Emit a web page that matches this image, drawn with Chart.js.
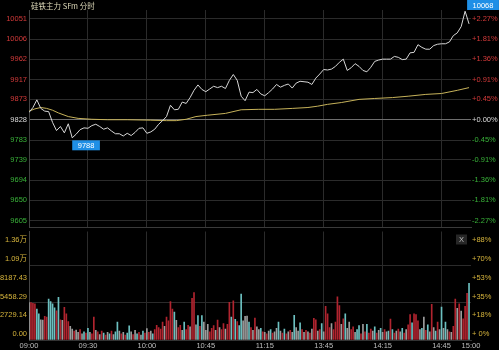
<!DOCTYPE html>
<html>
<head>
<meta charset="utf-8">
<title>硅铁主力 SFm 分时</title>
<script src="https://cdn.jsdelivr.net/npm/chart.js@4.4.1/dist/chart.umd.min.js"></script>
<style>
  html, body { margin: 0; padding: 0; background: #000; }
  #wrap { position: relative; width: 499px; height: 350px; overflow: hidden; background: #000; }
  #wrap canvas { position: absolute; left: 0; }
  #priceChart { top: 0; }
  #volChart { top: 225px; }
</style>
</head>
<body>
<div id="wrap">
  <canvas id="priceChart" width="499" height="234"></canvas>
  <canvas id="volChart" width="499" height="125"></canvas>
</div>
<script>
// Intraday session: 09:00-10:15, 10:30-11:30, 13:30-15:00 => 225 trading minutes
const SESSION_MINUTES = 225;
const PREV_CLOSE = 9828;
const PRICE_STEP = 2; // one price sample every 2 trading minutes
const TITLE = '硅铁主力 SFm 分时';

// Last price, sampled every 2 minutes from 09:00
const prices = [
  9844, 9855, 9872, 9853, 9847, 9846, 9822, 9804, 9813, 9799,
  9819, 9788, 9796, 9806, 9810, 9809, 9815, 9818, 9813, 9807,
  9810, 9803, 9797, 9797, 9792, 9798, 9793, 9800, 9809, 9810,
  9798, 9801, 9807, 9818, 9826, 9835, 9860, 9850, 9851, 9867,
  9864, 9877, 9893, 9905, 9895, 9890, 9896, 9902, 9899, 9902,
  9897, 9915, 9928, 9915, 9880, 9870, 9889, 9888, 9895, 9885,
  9881, 9888, 9896, 9906, 9900, 9904, 9907, 9898, 9909, 9913,
  9912, 9911, 9906, 9920, 9929, 9939, 9938, 9940, 9946, 9955,
  9962, 9937, 9943, 9952, 9946, 9937, 9934, 9944, 9957, 9960,
  9962, 9962, 9962, 9968, 9966, 9961, 9962, 9976, 9977, 9994,
  9988, 9984, 9984, 9992, 9995, 9996, 9996, 10000, 10014, 10020,
  10034, 10068, 10040
];

// Average price line
const avgMinutes = [0, 3, 6, 9, 12, 15, 20, 25, 32, 40, 50, 62, 70, 75, 80, 85, 91, 100,
  108, 117, 125, 134, 142, 147, 152, 159, 168, 176, 185, 193, 202, 210, 218, 224];
const avgPrices = [9847, 9852, 9855, 9853, 9849, 9843, 9835, 9831, 9829, 9828, 9828, 9827,
  9826, 9826, 9829, 9835, 9838, 9842, 9850, 9851, 9851, 9853, 9855, 9858, 9862, 9866,
  9873, 9875, 9877, 9880, 9884, 9886, 9893, 9899];

// Per-minute volume
const volumes = [
  // 09:00
  5450, 5450, 5350, 5250, 4500, 3800, 2950, 2900, 3450, 3350, 5950, 5600, 5250, 4700, 4250,
  6200, 2950, 2850, 4750, 3800, 2700, 2000, 1600, 1300, 1450, 1100, 1500, 900, 1200, 1000,
  // 09:30
  1700, 1100, 900, 3350, 1400, 1200, 800, 1300, 1000, 700, 1100, 900, 1300, 800, 1200,
  2600, 1300, 900, 1100, 700, 1000, 2050, 1200, 800, 1400, 900, 1100, 700, 1300, 1000,
  // 10:00
  1650, 1100, 1300, 900, 1500, 2150, 1800, 1600, 2600, 2000, 3350, 2800, 5600, 4500, 4050,
  // 10:30
  2850, 1800, 2150, 1400, 2600, 1500, 2150, 1900, 6050, 6900, 2200, 3550, 2000, 3550, 2600,
  // 10:45
  1400, 2300, 1200, 1700, 2100, 1400, 2900, 1800, 1500, 2400, 1600, 2300, 5500, 3350, 5700,
  3000, 2700, 2100, 6700, 2800, 3450, 3500, 2600, 1800, 1400, 3200, 1900, 1500, 1700, 1200,
  // 11:15
  1100, 900, 1300, 1500, 1000, 1200, 1700, 2600, 1300, 1000, 1600, 900, 1200, 1400, 1100,
  // 13:30
  3600, 1800, 1300, 2500, 1500, 1100, 1400, 1200, 1000, 1600, 3150, 2950, 1300, 1500, 2400,
  // 13:45
  1200, 4900, 3800, 1800, 2400, 1500, 2600, 6300, 5000, 2300, 3100, 3800, 1700, 2600, 1500,
  1900, 1100, 1500, 2100, 900, 2300, 1200, 2300, 1000, 1600, 1300, 1900, 1000, 1400, 1700,
  // 14:15
  1100, 1500, 1200, 1300, 3050, 1500, 1000, 1300, 1600, 1200, 1700, 1000, 1500, 2200, 3700,
  2500, 3800, 3700, 2800, 1500, 1700, 3350, 1400, 2200, 1200, 5200, 1800, 1300, 2600, 1500,
  // 14:45
  4800, 1700, 2600, 1500, 1200, 1100, 2000, 5950, 4600, 5250, 4200, 3100, 4900, 6800, 8250
];

// Bar direction per minute: r = up, g = down, w = flat
const barDirs = [
  'wrrrggwwrrggggr', 'grwrrrwwrwwrwgr', 'gwrrwrwrgrwgrwg', 'gwrwrggwrwgrwgr',
  'wrwgrrrrrwrrrrg', 'wrrwgrrwrrwgrgw', 'wwrrrwrwrrwrrgr', 'grggwwwgrwrwwgr',
  'wrwgrwwgwrgrwrw', 'gwwgrwrwrwrrwrg', 'wrrrwrrrrwrgwwr', 'rwggrwrgrrwgrwg',
  'wrwgrgrwrwgrwrr', 'grrrwgwrgwrwgrw', 'gwgwrwrrwrwrrrg'
].join('').split('');

// Axis ticks and labels
const priceTicks = [9605, 9650, 9694, 9739, 9783, 9828, 9873, 9917, 9962, 10006, 10051];
const pctLabels = ['-2.27%', '-1.81%', '-1.36%', '-0.91%', '-0.45%', '+0.00%',
  '+0.45%', '+0.91%', '+1.36%', '+1.81%', '+2.27%'];
const volTicks = [0, 2729.14, 5458.29, 8187.43, 10916.57, 13645.71];
const volLabels = ['0.00', '2729.14', '5458.29', '8187.43', '1.09万', '1.36万'];
const volPctLabels = ['+ 0%', '+18%', '+35%', '+53%', '+70%', '+88%'];
const timeTicks = [0, 30, 60, 90, 120, 150, 180, 210, 225];
const timeLabels = ['09:00', '09:30', '10:00', '10:45', '11:15', '13:45', '14:15', '14:45', '15:00'];

const PRICE_MIN = 9589.6;
const PRICE_MAX = 10070.7;
const VOL_MAX = 15800;

const GRID = '#2b2b2b';
const FONT = { family: "'Liberation Sans', 'Noto Sans CJK SC', sans-serif", size: 7.5 };
const UP = '#d43a3a';
const DOWN = '#39b239';
const barColors = { r: '#b0242f', g: '#6cc0c0', w: '#9c9c9c' };

function priceColor(v) {
  if (v > PREV_CLOSE) return UP;
  if (v < PREV_CLOSE) return DOWN;
  return '#dcdcdc';
}

function drawTag(ctx, text, x, y) {
  ctx.font = "7.5px 'Liberation Sans', sans-serif";
  const w = ctx.measureText(text).width + 11;
  x = Math.min(x, ctx.canvas.width - w);
  y = Math.max(y, 0);
  ctx.fillStyle = '#1f8fe6';
  ctx.fillRect(x, y, w, 10);
  ctx.fillStyle = '#ffffff';
  ctx.textAlign = 'center';
  ctx.textBaseline = 'middle';
  ctx.fillText(text, x + w / 2, y + 5.5);
}

// Title plus high / low tags on the price panel
const priceOverlay = {
  id: 'priceOverlay',
  afterDraw(chart) {
    const { ctx, scales: { x, y } } = chart;
    ctx.save();
    ctx.font = "7.5px 'Noto Sans CJK SC', sans-serif";
    ctx.fillStyle = '#ddd8b8';
    ctx.textAlign = 'left';
    ctx.textBaseline = 'middle';
    ctx.fillText(TITLE, 31, 6);

    const hi = Math.max(...prices);
    const lo = Math.min(...prices);
    const hiX = x.getPixelForValue(prices.indexOf(hi) * PRICE_STEP);
    const loX = x.getPixelForValue(prices.indexOf(lo) * PRICE_STEP);
    drawTag(ctx, String(hi), hiX + 2, y.getPixelForValue(hi) - 12);
    drawTag(ctx, String(lo), loX, y.getPixelForValue(lo) + 2.5);
    ctx.restore();
  }
};

// Close button in the volume panel corner
const volOverlay = {
  id: 'volOverlay',
  afterDraw(chart) {
    const { ctx, chartArea } = chart;
    ctx.save();
    ctx.fillStyle = '#272727';
    ctx.fillRect(chartArea.right - 15, chartArea.top + 3, 11, 10);
    ctx.fillStyle = '#bdbdbd';
    ctx.font = "7.5px 'Liberation Sans', sans-serif";
    ctx.textAlign = 'center';
    ctx.textBaseline = 'middle';
    ctx.fillText('X', chartArea.right - 9.5, chartArea.top + 8.5);
    ctx.restore();
  }
};

const gridMinutes = timeTicks.filter(m => m < SESSION_MINUTES);

new Chart(document.getElementById('priceChart'), {
  type: 'line',
  data: {
    datasets: [
      {
        data: prices.map((p, i) => ({ x: i * PRICE_STEP, y: p })),
        borderColor: '#d6d6d6',
        borderWidth: 1,
        pointRadius: 0,
        tension: 0
      },
      {
        data: avgMinutes.map((m, i) => ({ x: m, y: avgPrices[i] })),
        borderColor: '#c6b25a',
        borderWidth: 1,
        pointRadius: 0,
        tension: 0
      }
    ]
  },
  options: {
    responsive: false,
    animation: false,
    events: [],
    layout: { padding: { top: 10, bottom: 5, left: 0, right: 0 } },
    plugins: { legend: { display: false }, tooltip: { enabled: false } },
    scales: {
      x: {
        type: 'linear',
        min: 0,
        max: SESSION_MINUTES,
        afterBuildTicks: s => { s.ticks = gridMinutes.map(v => ({ value: v })); },
        afterFit: s => { s.height = 0; },
        ticks: { display: false },
        grid: { color: GRID, drawTicks: false },
        border: { color: '#3a3a3a' }
      },
      y: {
        position: 'left',
        min: PRICE_MIN,
        max: PRICE_MAX,
        afterBuildTicks: s => { s.ticks = priceTicks.map(v => ({ value: v })); },
        afterFit: s => { s.width = 29; },
        ticks: {
          font: FONT,
          padding: 2,
          color: ctx => priceColor(ctx.tick.value),
          callback: v => String(v)
        },
        grid: {
          color: ctx => (ctx.tick && ctx.tick.value === PREV_CLOSE ? '#6e6e6e' : GRID),
          drawTicks: false
        },
        border: { color: '#444444' }
      },
      y1: {
        position: 'right',
        min: PRICE_MIN,
        max: PRICE_MAX,
        afterBuildTicks: s => { s.ticks = priceTicks.map(v => ({ value: v })); },
        afterFit: s => { s.width = 28; },
        ticks: {
          font: FONT,
          padding: 1,
          color: ctx => priceColor(ctx.tick.value),
          callback: (v, i) => pctLabels[i]
        },
        grid: { display: false, drawTicks: false },
        border: { display: false }
      }
    }
  },
  plugins: [priceOverlay]
});

new Chart(document.getElementById('volChart'), {
  type: 'bar',
  data: {
    datasets: [{
      data: volumes.map((v, i) => ({ x: i, y: v })),
      backgroundColor: barDirs.map(d => barColors[d]),
      barThickness: 1
    }]
  },
  options: {
    responsive: false,
    animation: false,
    events: [],
    layout: { padding: { top: 5, bottom: 0, left: 0, right: 0 } },
    plugins: { legend: { display: false }, tooltip: { enabled: false } },
    scales: {
      x: {
        type: 'linear',
        min: 0,
        max: SESSION_MINUTES,
        offset: false,
        afterBuildTicks: s => { s.ticks = timeTicks.map(v => ({ value: v })); },
        afterFit: s => { s.height = 10; },
        ticks: {
          font: FONT,
          color: '#bdbdbd',
          padding: 1,
          maxRotation: 0,
          autoSkip: false,
          callback: (v, i) => timeLabels[i]
        },
        grid: {
          offset: false,
          drawTicks: false,
          color: ctx => (ctx.tick && ctx.tick.value >= SESSION_MINUTES ? 'transparent' : GRID)
        },
        border: { color: '#333333' }
      },
      y: {
        position: 'left',
        min: 0,
        max: VOL_MAX,
        afterBuildTicks: s => { s.ticks = volTicks.map(v => ({ value: v })); },
        afterFit: s => { s.width = 29; },
        ticks: {
          font: FONT,
          color: '#d6b43c',
          padding: 2,
          labelOffset: -6,
          callback: (v, i) => volLabels[i]
        },
        grid: {
          drawTicks: false,
          color: ctx => (ctx.index === 2 || ctx.index === 4 ? GRID : 'transparent')
        },
        border: { color: '#444444' }
      },
      y1: {
        position: 'right',
        min: 0,
        max: VOL_MAX,
        afterBuildTicks: s => { s.ticks = volTicks.map(v => ({ value: v })); },
        afterFit: s => { s.width = 28; },
        ticks: {
          font: FONT,
          color: '#d6b43c',
          padding: 1,
          labelOffset: -6,
          callback: (v, i) => volPctLabels[i]
        },
        grid: { display: false, drawTicks: false },
        border: { display: false }
      }
    }
  },
  plugins: [volOverlay]
});
</script>
</body>
</html>
